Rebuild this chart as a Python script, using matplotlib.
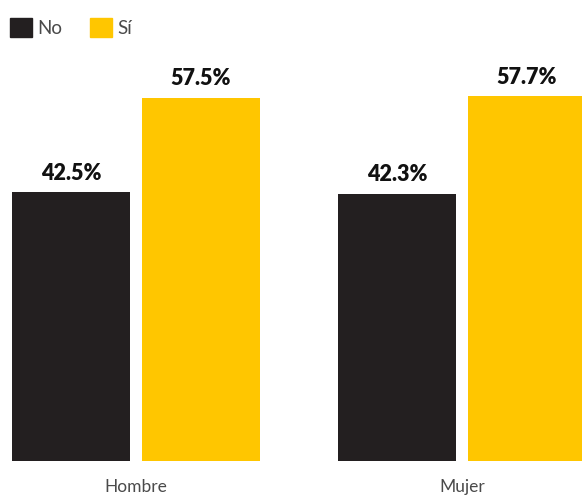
import numpy as np
import matplotlib.pyplot as plt
from matplotlib.patches import Patch

categories = ["Hombre", "Mujer"]
series = ["No", "Sí"]
no_values = [42.5, 42.3]
si_values = [57.5, 57.7]
colors = ["#231f20", "#ffc600"]

W, H = 582, 495
fig = plt.figure(figsize=(W / 100, H / 100), dpi=100)

# axes placed in pixel coords: bottom of bars at y=461 from top
bottom_px = 461
ax = fig.add_axes([0, (H - bottom_px) / H, 1, bottom_px / H])
ax.set_xlim(-136 / 326, (582 - 136) / 326)
ax.set_ylim(0, bottom_px / 6.32)

x = np.arange(len(categories))
width = 118 / 326
offset = 65 / 326

for vals, dx, col in [(no_values, -offset, colors[0]), (si_values, offset, colors[1])]:
    bars = ax.bar(x + dx, vals, width, color=col)
    for b, v in zip(bars, vals):
        ax.annotate(f"{v:.1f}%", (b.get_x() + b.get_width() / 2, v),
                    xytext=(0, 6), textcoords="offset points",
                    ha="center", va="bottom", fontsize=15.5,
                    fontweight="heavy", family="Lato", color="#111111")

for xi, cat in zip(x, categories):
    ax.annotate(cat, (xi, 0), xytext=(0, -13), textcoords="offset points",
                ha="center", va="top", fontsize=12.5, family="Lato",
                color="#4a4a4a", annotation_clip=False)

ax.axis("off")

handles = [Patch(color=c) for c in colors]
fig.legend(handles, series, loc="upper left", bbox_to_anchor=(-0.014, 1.0),
           ncol=2, frameon=False, handlelength=1.2, handleheight=1.2,
           handletextpad=0.25, columnspacing=1.5, borderaxespad=0.55,
           prop={"family": "Lato", "size": 13.5},
           labelcolor="#4a4a4a")

fig.savefig("out.png", dpi=100)
